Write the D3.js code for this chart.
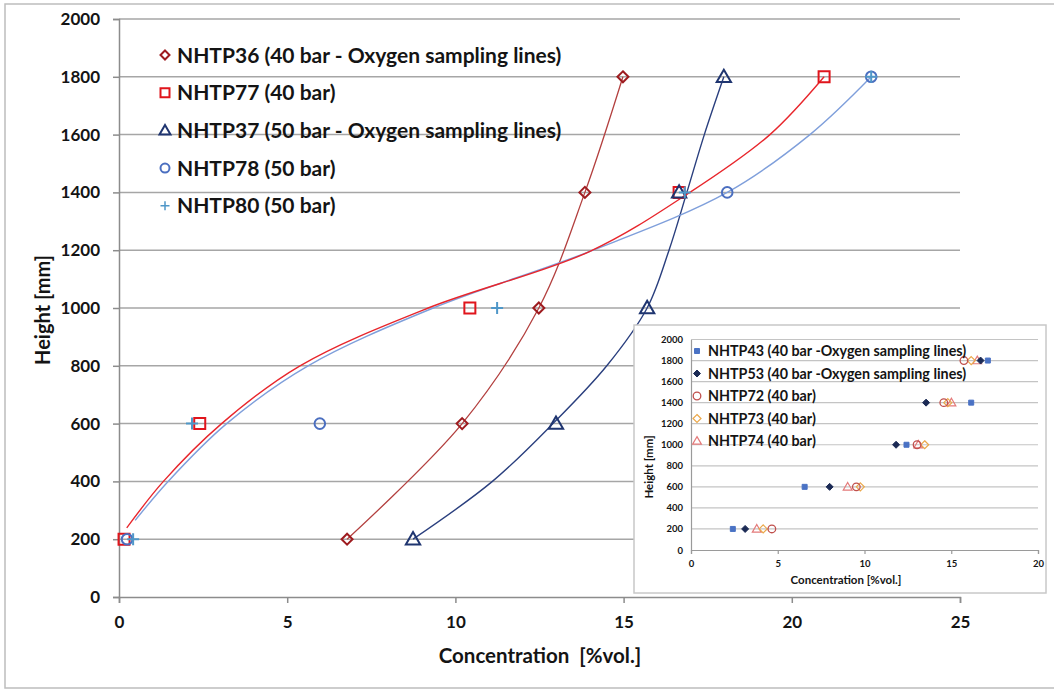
<!DOCTYPE html>
<html>
<head>
<meta charset="utf-8">
<script src="https://cdn.jsdelivr.net/npm/d3@7"></script>
<style>
  body { margin: 0; background: #fff; }
  text { font-family: Lato, "Open Sans", sans-serif; font-weight: bold; fill: #141414; }
</style>
</head>
<body>
<svg id="chart" width="1054" height="693"></svg>
<script>
// main chart data (height in mm, concentration in %vol.)
const heights = [200, 600, 1000, 1400, 1800];
const nhtp36 = [6.78, 10.2, 12.48, 13.85, 14.98];
const nhtp77 = [0.15, 2.4, 10.43, 16.65, 20.96];
const nhtp37 = [8.74, 12.99, 15.7, 16.65, 17.98];
const nhtp78 = [0.24, 5.97, null, 18.08, 22.36];
const nhtp80 = [0.42, 2.17, 11.24, 16.82, 22.36];

// trend lines
const trend77Conc = [0.23, 1.32, 3.05, 5.38, 9.19, 14.0, 16.97, 19.35, 20.96];
const trend77Height = [239, 400, 600, 800, 1000, 1196, 1400, 1600, 1800];
const trend80Conc = [0.48, 1.46, 3.2, 5.62, 9.34, 14.0, 18.08, 20.54, 22.36];
const trend80Height = [265, 400, 600, 800, 1000, 1196, 1400, 1600, 1800];
const trend37Conc = [8.74, 11.1, 12.9, 14.5, 15.7, 16.35, 16.88, 17.4, 17.98];
const trend37Height = [200, 400, 600, 800, 1000, 1200, 1400, 1600, 1800];

const yTicks = [0, 200, 400, 600, 800, 1000, 1200, 1400, 1600, 1800, 2000];
const xTicks = [0, 5, 10, 15, 20, 25];

// inset data
const nhtp43 = [2.41, 6.55, 12.42, 16.15, 17.11];
const nhtp53 = [3.12, 7.99, 11.82, 13.55, 16.69];
const nhtp72 = [4.66, 9.53, 13.03, 14.57, 15.73];
const nhtp73 = [4.16, 9.76, 13.47, 14.8, 16.15];
const nhtp74 = [3.79, 9.03, 13.1, 15.01, 16.5];
const insetXTicks = [0, 5, 10, 15, 20];

const svg = d3.select('#chart');

svg.append('rect')
    .attr('x', 5).attr('y', 4)
    .attr('width', 1070).attr('height', 684)
    .attr('fill', '#fff')
    .attr('stroke', '#bdbdbd')
    .attr('stroke-width', 1.5);

function markerPath(type, s) {
    switch (type) {
        case 'square': return `M${-s},${-s}H${s}V${s}H${-s}Z`;
        case 'diamond': return `M0,${-s}L${s},0L0,${s}L${-s},0Z`;
        case 'triangle': return `M0,${-s * 1.1}L${s * 1.1},${s * 0.8}L${-s * 1.1},${s * 0.8}Z`;
        case 'circle': return `M${-s},0A${s},${s} 0 1,0 ${s},0A${s},${s} 0 1,0 ${-s},0Z`;
        case 'plus': return `M${-s},0H${s}M0,${-s}V${s}`;
    }
}

function drawMarkers(g, xs, ys, xScale, yScale, m) {
    const pts = xs.map((v, i) => [v, ys[i]]).filter(d => d[0] != null);
    g.append('g').selectAll('path')
        .data(pts)
        .enter().append('path')
        .attr('transform', d => `translate(${xScale(d[0])},${yScale(d[1])})`)
        .attr('d', markerPath(m.type, m.size))
        .attr('fill', m.fill || 'none')
        .attr('stroke', m.color)
        .attr('stroke-width', m.width || 2);
}

// ---------- main chart ----------
const x = d3.scaleLinear().domain([0, 25]).range([119, 960]);
const y = d3.scaleLinear().domain([0, 2000]).range([597, 19]);

svg.append('g').selectAll('line')
    .data(yTicks.slice(1))
    .enter().append('line')
    .attr('x1', x(0)).attr('x2', x(25))
    .attr('y1', d => y(d)).attr('y2', d => y(d))
    .attr('stroke', '#a6a6a6')
    .attr('stroke-width', 1.5);

const yAxis = svg.append('g')
    .attr('transform', `translate(${x(0)},0)`)
    .call(d3.axisLeft(y).tickValues(yTicks).tickFormat(d3.format('d')).tickSize(6).tickPadding(13));
const xAxis = svg.append('g')
    .attr('transform', `translate(0,${y(0)})`)
    .call(d3.axisBottom(x).tickValues(xTicks).tickFormat(d3.format('d')).tickSize(6).tickPadding(13));
[yAxis, xAxis].forEach(a => {
    a.selectAll('path, line').attr('stroke', '#8c8c8c').attr('stroke-width', 1.5);
    a.selectAll('text').style('font-size', '17px').attr('fill', '#141414');
});

const line = d3.line()
    .x(d => x(d[0]))
    .y(d => y(d[1]))
    .curve(d3.curveCatmullRom);

const zip = (a, b) => a.map((v, i) => [v, b[i]]);

svg.append('path').datum(zip(nhtp36, heights))
    .attr('d', line).attr('fill', 'none')
    .attr('stroke', '#b3403f').attr('stroke-width', 1.3);
svg.append('path').datum(zip(trend37Conc, trend37Height))
    .attr('d', line).attr('fill', 'none')
    .attr('stroke', '#2a3f7e').attr('stroke-width', 1.4);
svg.append('path').datum(zip(trend80Conc, trend80Height))
    .attr('d', line).attr('fill', 'none')
    .attr('stroke', '#7f9fdb').attr('stroke-width', 1.4);
svg.append('path').datum(zip(trend77Conc, trend77Height))
    .attr('d', line).attr('fill', 'none')
    .attr('stroke', '#e8262c').attr('stroke-width', 1.4);

const mainSeries = [
    { name: 'NHTP36 (40 bar - Oxygen sampling lines)', data: nhtp36, type: 'diamond', size: 5.5, color: '#9e1b1f' },
    { name: 'NHTP77 (40 bar)', data: nhtp77, type: 'square', size: 5.5, color: '#e0151c' },
    { name: 'NHTP37 (50 bar - Oxygen sampling lines)', data: nhtp37, type: 'triangle', size: 6.5, color: '#1f3570' },
    { name: 'NHTP78 (50 bar)', data: nhtp78, type: 'circle', size: 5.3, color: '#4b6fc0' },
    { name: 'NHTP80 (50 bar)', data: nhtp80, type: 'plus', size: 6, color: '#4f97c8' }
];

mainSeries.forEach(s => drawMarkers(svg, s.data, heights, x, y, s));

const legend = svg.append('g').attr('transform', 'translate(165,55)');
const legendItems = legend.selectAll('g')
    .data(mainSeries)
    .enter().append('g')
    .attr('transform', (d, i) => `translate(0,${i * 37.7})`);
legendItems.append('path')
    .attr('d', d => markerPath(d.type, d.type === 'triangle' ? 5 : 4.5))
    .attr('fill', 'none')
    .attr('stroke', d => d.color)
    .attr('stroke-width', d => d.type === 'plus' ? 1.5 : 2);
legendItems.append('text')
    .attr('x', 12)
    .attr('dy', '0.36em')
    .style('font-size', '21px')
    .text(d => d.name);

svg.append('text')
    .attr('transform', 'translate(50,310) rotate(-90)')
    .attr('text-anchor', 'middle')
    .style('font-size', '20px')
    .text('Height [mm]');
svg.append('text')
    .attr('x', 540).attr('y', 663)
    .attr('text-anchor', 'middle')
    .style('font-size', '20.5px')
    .style('white-space', 'pre')
    .text('Concentration  [%vol.]');

// ---------- inset chart ----------
const inset = svg.append('g');
inset.append('rect')
    .attr('x', 634).attr('y', 325)
    .attr('width', 412).attr('height', 268)
    .attr('fill', '#fff')
    .attr('stroke', '#c8c8c8')
    .attr('stroke-width', 1.5);

const xi = d3.scaleLinear().domain([0, 20]).range([691, 1038]);
const yi = d3.scaleLinear().domain([0, 2000]).range([550, 339.5]);

inset.append('g').selectAll('line')
    .data(yTicks.slice(1))
    .enter().append('line')
    .attr('x1', xi(0)).attr('x2', xi(20))
    .attr('y1', d => yi(d)).attr('y2', d => yi(d))
    .attr('stroke', '#c4c4c4')
    .attr('stroke-width', 1.2);

const yiAxis = inset.append('g')
    .attr('transform', `translate(${xi(0)},0)`)
    .call(d3.axisLeft(yi).tickValues(yTicks).tickFormat(d3.format('d')).tickSize(0).tickPadding(8));
const xiAxis = inset.append('g')
    .attr('transform', `translate(0,${yi(0)})`)
    .call(d3.axisBottom(xi).tickValues(insetXTicks).tickFormat(d3.format('d')).tickSize(4).tickPadding(6));
[yiAxis, xiAxis].forEach(a => {
    a.selectAll('path, line').attr('stroke', '#9a9a9a').attr('stroke-width', 1.2);
    a.selectAll('text').style('font-size', '9.5px').attr('fill', '#141414');
});

const insetSeries = [
    { name: 'NHTP43 (40 bar -Oxygen sampling lines)', data: nhtp43, type: 'square', size: 2.5, color: '#4a72c4', fill: '#4a72c4', width: 1 },
    { name: 'NHTP53 (40 bar -Oxygen sampling lines)', data: nhtp53, type: 'diamond', size: 3.5, color: '#1b2a55', fill: '#1b2a55', width: 1 },
    { name: 'NHTP72 (40 bar)', data: nhtp72, type: 'circle', size: 3.8, color: '#c0504d', width: 1.3 },
    { name: 'NHTP73 (40 bar)', data: nhtp73, type: 'diamond', size: 4, color: '#eba84a', width: 1.2 },
    { name: 'NHTP74 (40 bar)', data: nhtp74, type: 'triangle', size: 4, color: '#e47a7a', width: 1.2 }
];

insetSeries.slice().reverse().forEach(s => drawMarkers(inset, s.data, heights, xi, yi, s));

const insetLegend = inset.append('g').attr('transform', 'translate(697,351)');
const insetItems = insetLegend.selectAll('g')
    .data(insetSeries)
    .enter().append('g')
    .attr('transform', (d, i) => `translate(0,${i * 22.5})`);
insetItems.append('path')
    .attr('d', d => markerPath(d.type, d.size))
    .attr('fill', d => d.fill || 'none')
    .attr('stroke', d => d.color)
    .attr('stroke-width', d => d.width);
insetItems.append('text')
    .attr('x', 11)
    .attr('dy', '0.36em')
    .style('font-size', '14.3px')
    .text(d => d.name);

inset.append('text')
    .attr('transform', 'translate(653,467) rotate(-90)')
    .attr('text-anchor', 'middle')
    .style('font-size', '11.5px')
    .text('Height [mm]');
inset.append('text')
    .attr('x', 846).attr('y', 584)
    .attr('text-anchor', 'middle')
    .style('font-size', '11.5px')
    .text('Concentration [%vol.]');
</script>
</body>
</html>
